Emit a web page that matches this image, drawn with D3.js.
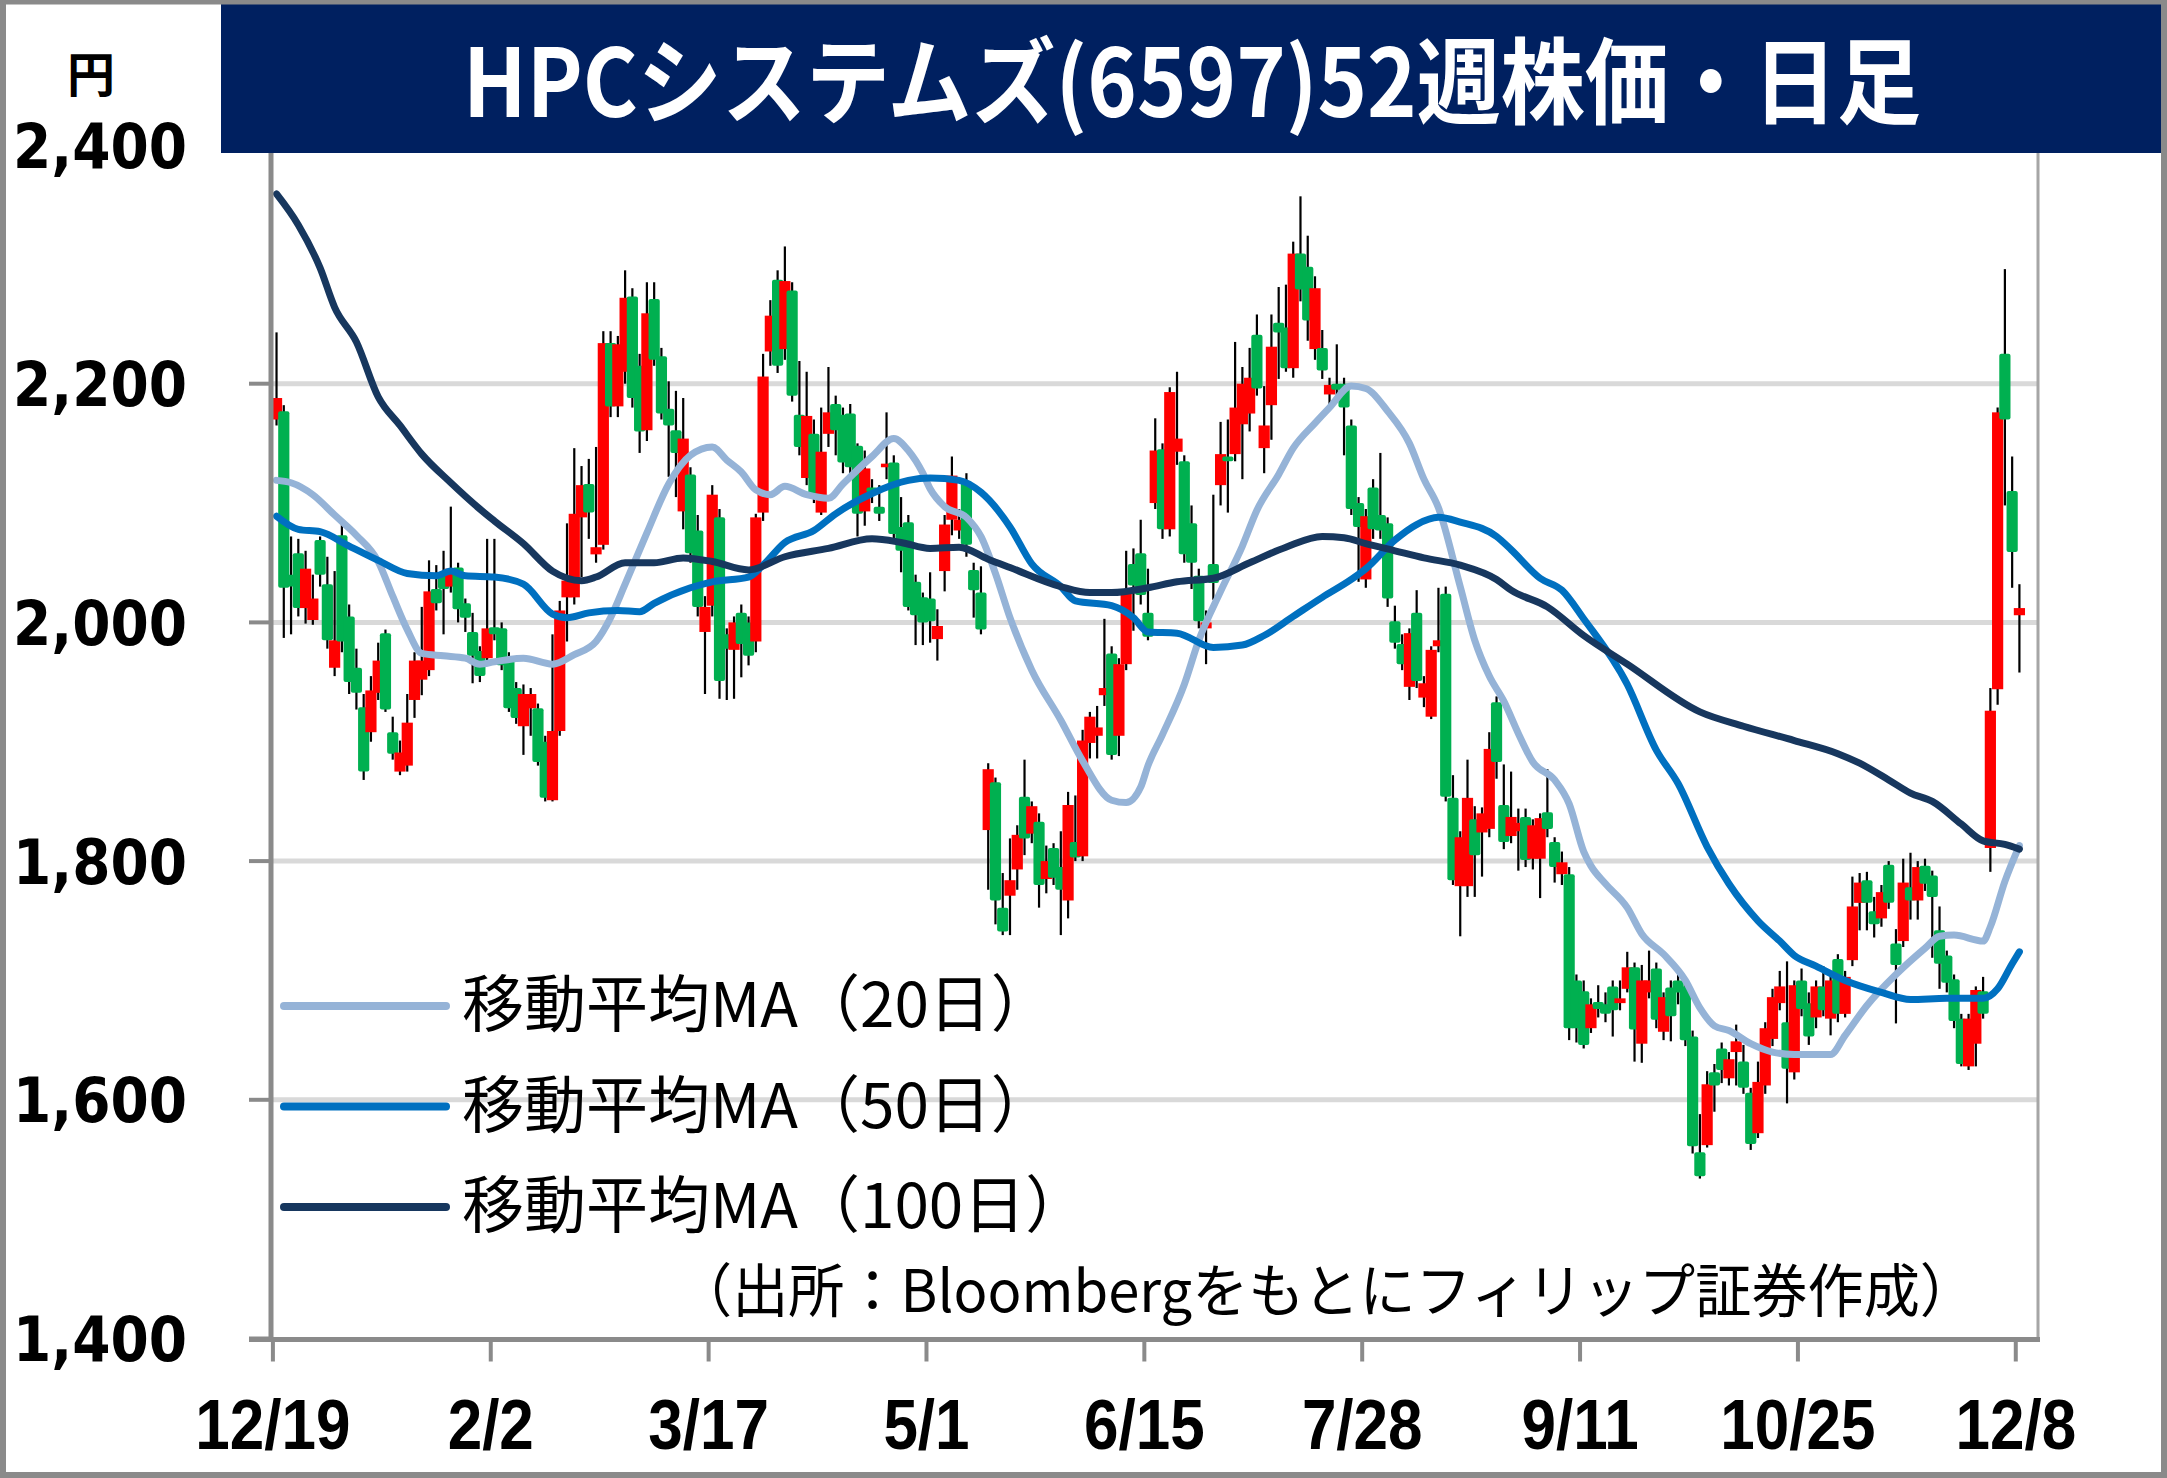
<!DOCTYPE html>
<html><head><meta charset="utf-8">
<script src="https://cdn.jsdelivr.net/npm/d3@7"></script>
<style>body{margin:0;background:#fff;overflow:hidden}</style>
</head><body>
<svg id="c" width="2167" height="1478"></svg>
<script>
const titleText = "HPCシステムズ(6597)52週株価・日足";
const unitText = "円";
const sourceText = "（出所：Bloombergをもとにフィリップ証券作成）";
const tickLabels = ["12/19","2/2","3/17","5/1","6/15","7/28","9/11","10/25","12/8"];
const tickDays = [0,30,60,90,120,150,180,210,240];
const yTicks = [1400,1600,1800,2000,2200,2400];
const legendNames = ["移動平均MA（20日）","移動平均MA（50日）","移動平均MA（100日）"];

const open = [
2170,2177,2040,2058,2012,2002,2069,2032,1962,2073,
2005,1962,1929,1908,1941,1991,1908,1875,1880,1935,
1952,1960,2028,2042,2030,2046,2016,1992,1976,1970,
1996,1995,1970,1945,1913,1928,1928,1900,1851,1909,
2021,2021,2088,2116,2057,2065,2234,2181,2210,2273,
2215,2161,2271,2223,2179,2161,2093,2124,2077,1992,
2014,2088,1990,1977,2008,2000,1984,2092,2227,2287,
2229,2278,2174,2121,2158,2092,2158,2183,2174,2175,
2148,2093,2113,2097,2130,2134,2080,2084,2034,2021,
2020,1986,2043,2086,2077,2118,2044,2025,1826,1866,
1761,1771,1793,1854,1823,1833,1785,1811,1795,1767,
1816,1804,1899,1905,1939,1974,1905,1965,2049,2058,
2008,2100,2145,2078,2143,2135,2083,2039,1995,2049,
2115,2139,2141,2166,2175,2241,2146,2182,2251,2247,
2213,2309,2298,2229,2230,2191,2200,2200,2165,2100,
2036,2113,2090,2083,2001,1982,1946,2008,1937,1921,
1980,2024,1853,1779,1779,1835,1824,1827,1933,1847,
1821,1825,1837,1802,1802,1841,1816,1789,1789,1700,
1691,1660,1682,1680,1695,1681,1693,1711,1647,1690,
1710,1657,1694,1700,1695,1653,1556,1562,1623,1643,
1618,1640,1632,1606,1572,1612,1651,1681,1665,1623,
1700,1681,1669,1695,1668,1718,1672,1717,1765,1784,
1758,1752,1797,1731,1733,1778,1767,1796,1788,1742,
1721,1701,1668,1628,1647,1691,1811,1944,2225,2110,
2006];
const high = [
2243,2182,2072,2070,2060,2040,2072,2055,2043,2087,
2015,1978,1940,1955,1983,1994,1921,1901,1940,1975,
2013,2052,2048,2060,2097,2050,2020,2008,1980,2070,
2070,2000,1975,1950,1948,1945,1932,1905,1990,2018,
2083,2146,2131,2137,2147,2244,2244,2240,2295,2280,
2225,2285,2285,2230,2202,2194,2188,2130,2090,2022,
2115,2095,1995,2005,2015,2005,2091,2225,2270,2295,
2315,2285,2219,2210,2170,2180,2214,2190,2180,2183,
2150,2144,2120,2115,2176,2140,2105,2090,2040,2025,
2042,2011,2090,2139,2095,2125,2050,2047,1882,1870,
1790,1819,1830,1885,1850,1840,1813,1815,1825,1858,
1855,1910,1925,1930,2003,1980,1970,2060,2062,2086,
2045,2171,2150,2197,2210,2140,2098,2045,2010,2107,
2168,2170,2235,2214,2230,2258,2198,2258,2281,2283,
2319,2357,2324,2290,2245,2205,2233,2205,2170,2105,
2095,2120,2142,2088,2014,1990,1995,2027,1955,1980,
2029,2030,1872,1825,1885,1846,1845,1908,1938,1881,
1875,1844,1844,1835,1840,1877,1820,1808,1795,1705,
1700,1685,1696,1690,1700,1700,1724,1715,1713,1725,
1715,1690,1700,1711,1700,1658,1588,1624,1630,1648,
1640,1663,1646,1610,1632,1665,1693,1708,1716,1700,
1710,1690,1700,1712,1705,1722,1708,1787,1790,1791,
1770,1780,1800,1743,1802,1807,1800,1802,1792,1762,
1725,1705,1672,1672,1695,1703,1945,2180,2296,2139,
2032];
const low = [
2165,1987,1990,2005,1999,1998,2030,1978,1955,1975,
1940,1927,1868,1900,1935,1925,1885,1872,1875,1920,
1939,1955,2010,1990,2025,2000,1992,1949,1950,1965,
1985,1960,1925,1915,1889,1905,1880,1850,1850,1905,
1984,2015,2038,2070,2050,2061,2172,2172,2200,2180,
2142,2152,2215,2170,2122,2105,2078,2050,2005,1940,
2005,1936,1935,1936,1954,1964,1975,2085,2215,2209,
2220,2185,2140,2115,2100,2090,2147,2140,2125,2120,
2072,2081,2100,2085,2120,2070,2042,2010,1981,1981,
1983,1968,2026,2073,2070,2055,2004,1990,1776,1747,
1738,1738,1776,1805,1815,1761,1773,1780,1738,1752,
1800,1800,1886,1886,1930,1885,1888,1960,1993,2015,
1985,2095,2070,2072,2132,2050,2028,1995,1965,2019,
2098,2092,2135,2120,2160,2190,2125,2153,2204,2210,
2205,2269,2236,2220,2204,2183,2190,2140,2090,2034,
2029,2070,2070,2013,1978,1960,1935,1945,1929,1919,
1975,1850,1780,1737,1770,1770,1787,1820,1869,1810,
1815,1792,1795,1793,1769,1820,1782,1780,1650,1648,
1643,1656,1669,1665,1653,1675,1690,1632,1631,1685,
1660,1650,1649,1680,1645,1555,1534,1560,1590,1614,
1612,1612,1605,1558,1568,1605,1645,1675,1597,1617,
1670,1646,1660,1670,1654,1665,1669,1712,1742,1742,
1736,1745,1760,1664,1728,1751,1751,1775,1719,1693,
1690,1660,1628,1625,1628,1668,1791,1931,2098,2029,
1958];
const close = [
2188,2029,2030,2012,2045,2020,2040,1985,1985,1984,
1950,1941,1875,1943,1968,1927,1890,1891,1916,1968,
1968,2026,2016,2028,2045,2011,2004,1972,1955,1995,
1990,1964,1928,1920,1940,1940,1883,1853,1909,2010,
2035,2091,2115,2092,2063,2234,2181,2233,2272,2188,
2160,2259,2220,2175,2165,2142,2154,2058,2013,2013,
2107,1951,1978,2000,1982,1972,2088,2206,2257,2215,
2286,2190,2147,2173,2106,2143,2176,2161,2134,2130,
2091,2129,2109,2091,2133,2074,2060,2013,2006,2000,
2001,1997,2082,2123,2086,2065,2027,1994,1877,1767,
1741,1784,1822,1819,1846,1780,1800,1786,1776,1847,
1803,1901,1921,1912,1945,1889,1965,2024,2031,2023,
1988,2144,2078,2193,2154,2057,2050,2001,2000,2033,
2141,2135,2180,2200,2205,2196,2165,2231,2243,2213,
2309,2279,2253,2280,2211,2199,2195,2180,2095,2080,
2089,2078,2077,2020,1983,1965,1991,1951,1949,1977,
1985,1854,1784,1820,1853,1805,1840,1894,1883,1816,
1837,1832,1801,1830,1836,1827,1795,1799,1660,1660,
1646,1680,1676,1672,1675,1685,1711,1659,1700,1700,
1667,1686,1670,1690,1650,1561,1536,1613,1612,1625,
1634,1649,1610,1563,1615,1660,1686,1695,1626,1696,
1676,1653,1695,1675,1700,1672,1703,1762,1782,1765,
1747,1774,1765,1713,1782,1767,1795,1781,1770,1714,
1698,1666,1630,1668,1692,1672,1926,2176,2170,2059,
2012];

const ma20Days = [0,2,5,8,11,14,16,18,20,23,26,28,30,34,38,41,44,46,48,51,54,57,60,62,64,66,68,70,73,76,78,82,85,87,89,90,92,95,97,99,101,104,108,111,115,117,119,120,122,125,127,130,133,135,138,140,143,145,148,150,153,156,158,160,163,165,167,169,171,173,176,178,180,181,183,186,188,191,194,196,198,200,203,206,209,214,216,219,223,227,229,231,235,236,238,240];
const ma20 = [2119,2117,2107,2090,2073,2051,2022,1994,1974,1972,1970,1965,1967,1970,1965,1973,1984,2004,2032,2075,2116,2140,2147,2136,2126,2111,2107,2114,2107,2104,2116,2139,2154,2144,2125,2112,2097,2088,2072,2041,2004,1960,1918,1884,1851,1849,1862,1880,1906,1948,1985,2026,2064,2094,2124,2146,2167,2180,2198,2196,2177,2150,2120,2096,2030,1985,1955,1934,1907,1883,1868,1848,1808,1796,1781,1761,1739,1722,1700,1677,1662,1658,1647,1640,1638,1638,1654,1679,1705,1727,1737,1738,1733,1745,1783,1813];
const ma50Days = [0,3,6,10,14,18,22,24,26,30,34,38,40,43,47,50,52,57,60,65,67,70,74,77,82,87,90,94,97,101,104,108,110,115,118,120,124,129,133,136,140,144,148,150,154,157,160,163,168,170,174,177,180,186,190,193,197,200,204,207,209,212,216,221,225,230,235,237,239,240];
const ma50 = [2089,2078,2076,2064,2052,2041,2039,2043,2039,2038,2032,2007,2004,2008,2010,2009,2016,2029,2034,2038,2048,2067,2077,2091,2108,2119,2121,2119,2109,2080,2049,2030,2018,2014,2004,1992,1991,1979,1981,1989,2005,2021,2036,2045,2069,2082,2088,2084,2072,2061,2037,2027,2003,1948,1893,1865,1812,1781,1750,1733,1721,1712,1700,1690,1684,1685,1685,1693,1714,1724];
const ma100Days = [0,3,6,8,11,14,17,20,24,28,30,34,38,42,44,48,52,56,60,65,70,76,82,86,90,94,98,101,108,112,115,120,124,129,134,139,144,147,150,154,158,163,168,170,175,180,186,196,202,209,215,218,222,225,228,232,235,238,240];
const ma100 = [2359,2333,2297,2264,2235,2189,2165,2141,2117,2095,2085,2066,2043,2035,2038,2050,2050,2054,2051,2044,2055,2062,2070,2067,2062,2063,2053,2046,2030,2025,2025,2029,2034,2037,2050,2063,2072,2071,2066,2060,2054,2048,2036,2027,2013,1989,1965,1925,1913,1901,1890,1882,1868,1857,1850,1831,1817,1814,1810];

const W = 2167, H = 1478;
const svg = d3.select("#c");
const nDays = open.length;
const x = d3.scaleBand().domain(d3.range(nDays + 2)).range([272.9, 272.9 + (nDays + 2) * 7.262]).padding(0);
const bw = x.bandwidth();
const cx = i => x(i) + bw / 2;
const y = d3.scaleLinear().domain([1400, 2400]).range([1338.5, 145]);
const plotL = 272, plotR = 2038, plotB = 1338.5;
const gray = "#8a8a8a";

svg.append("rect").attr("x",0).attr("y",0).attr("width",W).attr("height",H).attr("fill","#fff");

// gridlines
svg.append("g").selectAll("line").data(yTicks.filter(v => v > 1400 && v < 2400)).join("line")
  .attr("x1", plotL).attr("x2", plotR).attr("y1", d => y(d)).attr("y2", d => y(d))
  .attr("stroke", "#d9d9d9").attr("stroke-width", 5);

// right plot border
svg.append("line").attr("x1", plotR).attr("x2", plotR).attr("y1", 140).attr("y2", plotB)
  .attr("stroke", "#a6a6a6").attr("stroke-width", 3);

// wicks
const days = d3.range(nDays);
svg.append("g").selectAll("line").data(days).join("line")
  .attr("x1", i => cx(i)).attr("x2", i => cx(i))
  .attr("y1", i => y(high[i])).attr("y2", i => y(low[i]))
  .attr("stroke", "#000").attr("stroke-width", 2.2);

// bodies
svg.append("g").selectAll("rect").data(days).join("rect")
  .attr("x", i => cx(i) - 5.6).attr("width", 11.2)
  .attr("y", i => y(Math.max(open[i], close[i])))
  .attr("height", i => Math.max(2.5, Math.abs(y(open[i]) - y(close[i]))))
  .attr("rx", i => close[i] < open[i] ? 2 : 0)
  .attr("fill", i => close[i] >= open[i] ? "#ff0000" : "#00b050");

// moving averages
const maColors = ["#95b3d7", "#0070c0", "#17375e"];
const maSets = [[ma20Days, ma20], [ma50Days, ma50], [ma100Days, ma100]];
const line = d3.line().x(d => cx(d[0])).y(d => y(d[1])).curve(d3.curveMonotoneX);
maSets.forEach((s, k) => {
  svg.append("path").datum(s[0].map((dd, j) => [dd, s[1][j]]))
    .attr("d", line).attr("fill", "none").attr("stroke", maColors[k])
    .attr("stroke-width", 7).attr("stroke-linecap", "round").attr("stroke-linejoin", "round");
});

// y axis
svg.append("line").attr("x1", 271).attr("x2", 271).attr("y1", 140).attr("y2", plotB + 2)
  .attr("stroke", gray).attr("stroke-width", 5);
svg.append("g").selectAll("line").data(yTicks).join("line")
  .attr("x1", 249).attr("x2", 271).attr("y1", d => y(d)).attr("y2", d => y(d))
  .attr("stroke", gray).attr("stroke-width", 4);
svg.append("g").selectAll("text").data(yTicks).join("text")
  .attr("transform", d => `translate(187,${y(d)}) scale(1,1.13)`)
  .attr("x", 0).attr("y", 20).attr("text-anchor", "end")
  .attr("font-family", "DejaVu Sans, Verdana, sans-serif").attr("font-weight", "bold")
  .attr("font-size", 55).attr("fill", "#000")
  .text(d => d3.format(",")(d));

// x axis
svg.append("line").attr("x1", 249).attr("x2", plotR + 2).attr("y1", plotB + 1).attr("y2", plotB + 1)
  .attr("stroke", gray).attr("stroke-width", 5);
svg.append("g").selectAll("line").data(tickDays).join("line")
  .attr("x1", d => x(d)).attr("x2", d => x(d)).attr("y1", plotB + 3).attr("y2", plotB + 23)
  .attr("stroke", gray).attr("stroke-width", 4);
svg.append("g").selectAll("text").data(tickDays).join("text")
  .attr("transform", d => `translate(${x(d)},1424) scale(1,1.13)`)
  .attr("x", 0).attr("y", 22).attr("text-anchor", "middle")
  .attr("font-family", "Liberation Sans, Arial, sans-serif").attr("font-weight", "bold")
  .attr("font-size", 62).attr("fill", "#000")
  .text((d, j) => tickLabels[j]);

// legend
const lg = svg.append("g");
legendNames.forEach((name, k) => {
  const ly = 1006 + k * 100.5;
  lg.append("line").attr("x1", 284).attr("x2", 446).attr("y1", ly).attr("y2", ly)
    .attr("stroke", maColors[k]).attr("stroke-width", 8).attr("stroke-linecap", "round");
  lg.append("text").attr("x", 462).attr("y", ly + 21)
    .attr("font-family", "Noto Sans CJK JP, sans-serif").attr("font-size", 62).attr("fill", "#000")
    .text(name);
});
svg.append("text").attr("x", 676).attr("y", 1312)
  .attr("font-family", "Noto Sans CJK JP, sans-serif").attr("font-size", 58).attr("fill", "#000")
  .attr("textLength", 1300).attr("lengthAdjust", "spacingAndGlyphs")
  .text(sourceText);

// title banner
svg.append("rect").attr("x", 221).attr("y", 3).attr("width", W - 221).attr("height", 150).attr("fill", "#002060");
svg.append("text").attr("x", 463).attr("y", 117)
  .attr("font-family", "Noto Sans CJK JP, sans-serif").attr("font-weight", "bold")
  .attr("font-size", 94).attr("fill", "#fff")
  .attr("textLength", 1458).attr("lengthAdjust", "spacingAndGlyphs")
  .text(titleText);
svg.append("text").attr("x", 91).attr("y", 92).attr("text-anchor", "middle")
  .attr("font-family", "Noto Sans CJK JP, sans-serif").attr("font-weight", "bold")
  .attr("font-size", 48).attr("fill", "#000").text(unitText);

// outer border
svg.append("rect").attr("x", 3).attr("y", 1.5).attr("width", W - 6).attr("height", H - 4.5)
  .attr("fill", "none").attr("stroke", gray).attr("stroke-width", 6);
</script>
</body></html>
